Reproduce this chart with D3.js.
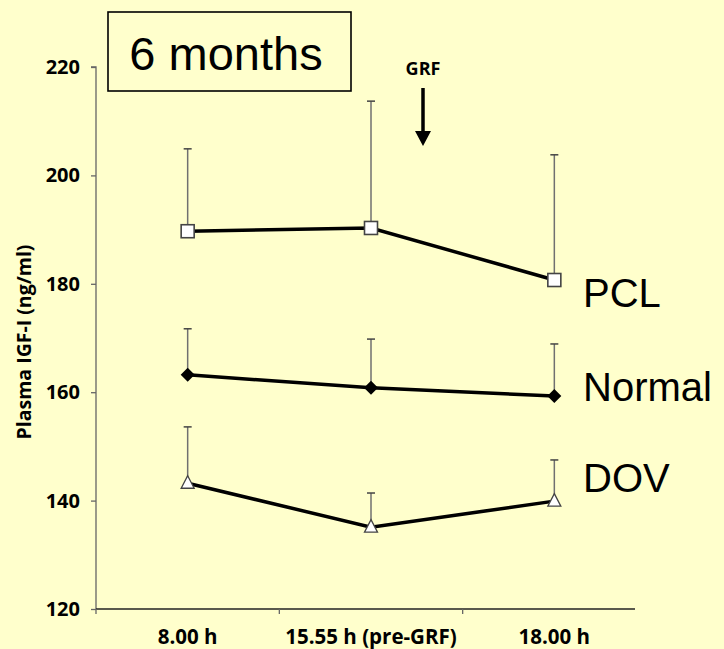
<!DOCTYPE html>
<html><head><meta charset="utf-8">
<script src="https://cdn.jsdelivr.net/npm/d3@7"></script>
<style>html,body{margin:0;padding:0;background:#FFFFCC;}</style>
</head><body>
<svg id="chart" width="724" height="649"></svg>
<script>
const categories = ["8.00 h", "15.55 h (pre-GRF)", "18.00 h"];
const yTicks = [120, 140, 160, 180, 200, 220];
const seriesNames = ["PCL", "Normal", "DOV"];
const pclMean = [189.7, 190.3, 180.7];
const pclUpper = [204.9, 213.7, 203.8];
const normalMean = [163.2, 160.8, 159.3];
const normalUpper = [171.7, 169.8, 168.9];
const dovMean = [143.2, 135.1, 139.9];
const dovUpper = [153.6, 141.4, 147.5];
const yLabel = "Plasma IGF-I (ng/ml)";
const titleText = "6 months";
const arrowText = "GRF";

(function () {
const series = [
  {name: seriesNames[0], mean: pclMean, upper: pclUpper, marker: "square"},
  {name: seriesNames[1], mean: normalMean, upper: normalUpper, marker: "diamond"},
  {name: seriesNames[2], mean: dovMean, upper: dovUpper, marker: "triangle"}
];

const svg = d3.select("#chart");
const mLeft = 96, mRight = 646, mTop = 67, mBottom = 609;
const x = d3.scaleBand().domain(categories).range([mLeft, mRight]);
const y = d3.scaleLinear().domain([120, 220]).range([mBottom, mTop]);
const cx = c => x(c) + x.bandwidth() / 2;

svg.append("rect").attr("width", 724).attr("height", 649).attr("fill", "#FFFFCC");

const tickFont = "'Open Sans', 'DejaVu Sans', sans-serif";

// Y axis
const yAxis = svg.append("g").attr("transform", `translate(${mLeft},0)`)
  .call(d3.axisLeft(y).tickValues(yTicks).tickSize(5).tickPadding(11));
yAxis.select(".domain").attr("stroke", "#666").attr("stroke-width", 1.3).attr("d", `M-5,${mTop}H0V${mBottom}`);
yAxis.selectAll(".tick line").attr("stroke", "#666").attr("stroke-width", 1.3);
yAxis.selectAll("text").attr("font-family", tickFont).attr("font-weight", "bold").attr("font-size", 20).attr("fill", "#000");

// X axis
const xAxis = svg.append("g").attr("transform", `translate(0,${mBottom})`)
  .call(d3.axisBottom(x).tickSize(0).tickPadding(20));
xAxis.select(".domain").attr("stroke", "#222").attr("stroke-width", 1.3).attr("d", `M${mLeft},0H635`);
xAxis.selectAll("text").attr("font-family", tickFont).attr("font-weight", "bold").attr("font-size", 20.5).attr("fill", "#000");
xAxis.selectAll(".bt").data(categories).enter().append("line")
  .attr("x1", d => x(d)).attr("x2", d => x(d)).attr("y1", 0).attr("y2", 5)
  .attr("stroke", "#666").attr("stroke-width", 1.3);

// Y label
svg.append("text").attr("transform", `translate(31,342) rotate(-90)`)
  .attr("text-anchor", "middle").attr("font-family", tickFont).attr("font-weight", "bold")
  .attr("font-size", 19.5).text(yLabel);

// Error bars
series.forEach(s => {
  const g = svg.append("g");
  categories.forEach((c, i) => {
    g.append("line").attr("x1", cx(c)).attr("x2", cx(c)).attr("y1", y(s.mean[i])).attr("y2", y(s.upper[i]))
      .attr("stroke", "#707070").attr("stroke-width", 1.5);
    g.append("line").attr("x1", cx(c) - 4).attr("x2", cx(c) + 4).attr("y1", y(s.upper[i])).attr("y2", y(s.upper[i]))
      .attr("stroke", "#444").attr("stroke-width", 1.5);
  });
});

// Lines
const line = d3.line().x((d, i) => cx(categories[i])).y(d => y(d));
series.forEach(s => {
  svg.append("path").datum(s.mean).attr("d", line).attr("fill", "none")
    .attr("stroke", "#000").attr("stroke-width", 3.5);
});

// Markers
series.forEach(s => {
  s.mean.forEach((v, i) => {
    const px = cx(categories[i]), py = y(v);
    if (s.marker === "square") {
      svg.append("rect").attr("x", px - 6.5).attr("y", py - 6.5).attr("width", 13).attr("height", 13)
        .attr("fill", "#fff").attr("stroke", "#444").attr("stroke-width", 1.6);
    } else if (s.marker === "diamond") {
      svg.append("path").attr("d", `M${px},${py - 7}L${px + 7},${py}L${px},${py + 7}L${px - 7},${py}Z`)
        .attr("fill", "#000");
    } else {
      svg.append("path").attr("d", `M${px},${py - 7.5}L${px + 6.5},${py + 5}L${px - 6.5},${py + 5}Z`)
        .attr("fill", "#fff").attr("stroke", "#444").attr("stroke-width", 1.3);
    }
  });
});

// Series labels
const labelFont = "'Liberation Sans', Arial, sans-serif";
const labelY = [307, 401, 492];
series.forEach((s, i) => {
  svg.append("text").attr("x", 583).attr("y", labelY[i]).attr("font-family", labelFont)
    .attr("font-size", 40).attr("fill", "#000").text(s.name);
});

// Title box
svg.append("rect").attr("x", 108).attr("y", 12).attr("width", 243).attr("height", 79)
  .attr("fill", "none").attr("stroke", "#000").attr("stroke-width", 1.6);
svg.append("text").attr("x", 226).attr("y", 70).attr("text-anchor", "middle").attr("font-family", labelFont)
  .attr("font-size", 47).attr("fill", "#000").text(titleText);

// GRF arrow
const ax = 423;
svg.append("text").attr("x", ax).attr("y", 75).attr("text-anchor", "middle").attr("font-family", tickFont)
  .attr("font-weight", "bold").attr("font-size", 18).text(arrowText);
svg.append("line").attr("x1", ax).attr("x2", ax).attr("y1", 88).attr("y2", 134).attr("stroke", "#000").attr("stroke-width", 3.5);
svg.append("path").attr("d", `M${ax - 8},131L${ax + 8},131L${ax},146Z`).attr("fill", "#000");
})();
</script>
</body></html>
